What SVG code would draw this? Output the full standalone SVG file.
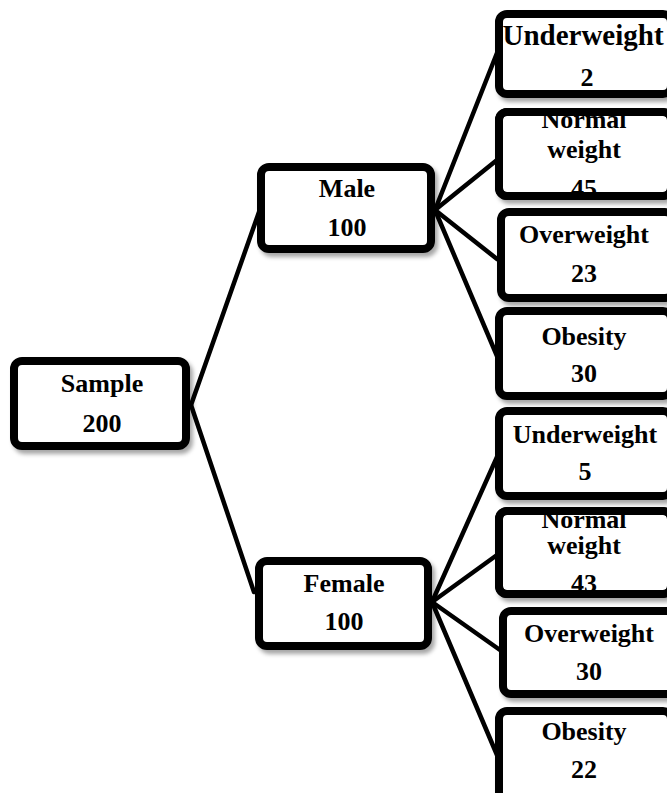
<svg xmlns="http://www.w3.org/2000/svg" width="667" height="793" viewBox="0 0 667 793">
<defs>
<filter id="sh" x="-10%" y="-10%" width="130%" height="130%">
<feDropShadow dx="3" dy="4" stdDeviation="2" flood-color="#000" flood-opacity="0.35"/>
</filter>
<style>
.bg{fill:#fff;stroke:#000;stroke-width:8;filter:url(#sh)}
.bd{fill:none;stroke:#000;stroke-width:8}
.t{font-family:"Liberation Serif","Times New Roman",serif;font-weight:bold;font-size:26px;fill:#000;text-anchor:middle}
.c{stroke:#000;stroke-width:4.5;fill:none;stroke-linecap:round}
</style>
</defs>
<rect width="667" height="793" fill="#fff"/>
<g id="connectors">
<line class="c" x1="191" y1="405" x2="259" y2="212"/>
<line class="c" x1="191" y1="405" x2="254" y2="592"/>
<line class="c" x1="435" y1="210" x2="497" y2="53"/>
<line class="c" x1="435" y1="210" x2="497" y2="160"/>
<line class="c" x1="435" y1="210" x2="497" y2="259"/>
<line class="c" x1="435" y1="210" x2="497" y2="356"/>
<line class="c" x1="432" y1="602" x2="497" y2="457"/>
<line class="c" x1="432" y1="602" x2="497" y2="555"/>
<line class="c" x1="432" y1="602" x2="500" y2="650"/>
<line class="c" x1="432" y1="602" x2="497" y2="755"/>
</g>
<g id="sample">
<rect class="bg" x="14" y="361" width="172" height="85" rx="8"/>
<text class="t" x="102" y="392">Sample</text>
<text class="t" x="102" y="432">200</text>
</g>
<g id="male">
<rect class="bg" x="261" y="167" width="170" height="82" rx="8"/>
<text class="t" x="347" y="197">Male</text>
<text class="t" x="347" y="236">100</text>
</g>
<g id="female">
<rect class="bg" x="259" y="561" width="169" height="85" rx="8"/>
<text class="t" x="344" y="592">Female</text>
<text class="t" x="344" y="630">100</text>
</g>
<g id="m-under">
<rect class="bg" x="499" y="14" width="172" height="80" rx="8"/>
<text class="t" x="583" y="45" style="font-size:29px">Underweight</text>
<text class="t" x="587" y="86">2</text>
</g>
<g id="m-normal">
<rect class="bg" x="499" y="112" width="172" height="84" rx="8"/>
<text class="t" x="584" y="128">Normal</text>
<text class="t" x="584" y="158">weight</text>
<text class="t" x="584" y="197">45</text>
<rect class="bd" x="499" y="112" width="172" height="84" rx="8"/>
</g>
<g id="m-over">
<rect class="bg" x="501" y="212" width="172" height="86" rx="8"/>
<text class="t" x="584" y="243">Overweight</text>
<text class="t" x="584" y="282">23</text>
</g>
<g id="m-obes">
<rect class="bg" x="499" y="311" width="172" height="85" rx="8"/>
<text class="t" x="584" y="345">Obesity</text>
<text class="t" x="584" y="382">30</text>
</g>
<g id="f-under">
<rect class="bg" x="499" y="411" width="172" height="85" rx="8"/>
<text class="t" x="585" y="443">Underweight</text>
<text class="t" x="585" y="480">5</text>
</g>
<g id="f-normal">
<rect class="bg" x="499" y="511" width="172" height="83" rx="8"/>
<text class="t" x="584" y="528">Normal</text>
<text class="t" x="584" y="554">weight</text>
<text class="t" x="584" y="592">43</text>
<rect class="bd" x="499" y="511" width="172" height="83" rx="8"/>
</g>
<g id="f-over">
<rect class="bg" x="503" y="611" width="172" height="83" rx="8"/>
<text class="t" x="589" y="642">Overweight</text>
<text class="t" x="589" y="680">30</text>
</g>
<g id="f-obes">
<rect class="bg" x="499" y="711" width="172" height="90" rx="8"/>
<text class="t" x="584" y="740">Obesity</text>
<text class="t" x="584" y="778">22</text>
</g>
</svg>
